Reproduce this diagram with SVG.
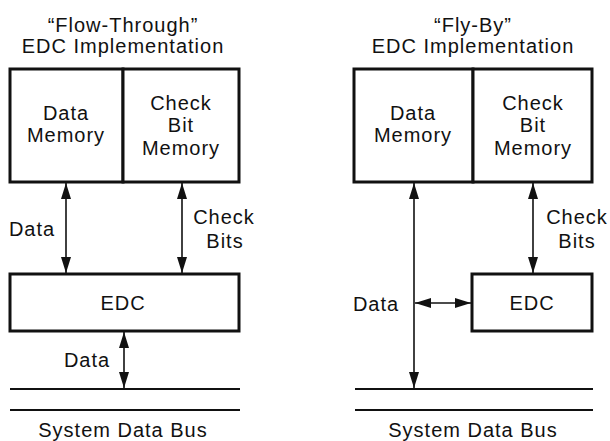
<svg xmlns="http://www.w3.org/2000/svg" width="610" height="441" viewBox="0 0 610 441">
<style>
text{font-family:"Liberation Sans",Arial,sans-serif;font-size:20px;letter-spacing:1px;fill:#111;text-anchor:middle}
.box{fill:#fff;stroke:#111;stroke-width:3}
.ln{stroke:#111;stroke-width:1.6;fill:none}
.bus{stroke:#111;stroke-width:2}
</style>
<defs>
<marker id="ah" viewBox="0 0 16 10" refX="16" refY="5" markerWidth="16" markerHeight="10" markerUnits="userSpaceOnUse" orient="auto-start-reverse">
<path d="M0,0 L16,5 L0,10 Z" fill="#111"/>
</marker>
</defs>
<rect width="610" height="441" fill="#fff"/>
<g id="title-left"><text x="123" y="32">“Flow-Through”</text><text x="123" y="53">EDC Implementation</text></g>
<g id="title-right"><text x="473" y="32">“Fly-By”</text><text x="473" y="53">EDC Implementation</text></g>
<g id="L-datamem"><rect class="box" x="10" y="69" width="113" height="113"/><text x="66" y="120">Data</text><text x="66" y="142">Memory</text></g>
<g id="L-checkmem"><rect class="box" x="123" y="69" width="116" height="113"/><text x="181" y="110">Check</text><text x="181" y="132">Bit</text><text x="181" y="155">Memory</text></g>
<g id="L-edc"><rect class="box" x="10" y="274" width="229" height="57"/><text x="123" y="310">EDC</text></g>
<g id="R-datamem"><rect class="box" x="354" y="69" width="119" height="113"/><text x="413" y="120">Data</text><text x="413" y="142">Memory</text></g>
<g id="R-checkmem"><rect class="box" x="473" y="69" width="119" height="113"/><text x="533" y="110">Check</text><text x="533" y="132">Bit</text><text x="533" y="155">Memory</text></g>
<g id="R-edc"><rect class="box" x="472" y="274" width="120" height="57"/><text x="532" y="310">EDC</text></g>
<g id="L-bus"><line class="bus" x1="10" y1="389" x2="240" y2="389"/><line class="bus" x1="10" y1="410" x2="240" y2="410"/><text x="123" y="437">System Data Bus</text></g>
<g id="R-bus"><line class="bus" x1="355" y1="389" x2="593" y2="389"/><line class="bus" x1="355" y1="410" x2="593" y2="410"/><text x="473" y="437">System Data Bus</text></g>
<g id="connectors">
<line class="ln" x1="66" y1="183" x2="66" y2="273" marker-start="url(#ah)" marker-end="url(#ah)"/>
<line class="ln" x1="182" y1="183" x2="182" y2="273" marker-start="url(#ah)" marker-end="url(#ah)"/>
<line class="ln" x1="124" y1="332" x2="124" y2="388" marker-start="url(#ah)" marker-end="url(#ah)"/>
<line class="ln" x1="414" y1="183" x2="414" y2="388" marker-start="url(#ah)" marker-end="url(#ah)"/>
<line class="ln" x1="533" y1="183" x2="533" y2="273" marker-start="url(#ah)" marker-end="url(#ah)"/>
<line class="ln" x1="415" y1="303" x2="471" y2="303" marker-start="url(#ah)" marker-end="url(#ah)"/>
</g>
<g id="labels">
<text x="32" y="236">Data</text>
<text x="224" y="224">Check</text><text x="225" y="248">Bits</text>
<text x="87" y="367">Data</text>
<text x="376" y="311">Data</text>
<text x="577" y="224">Check</text><text x="577" y="248">Bits</text>
</g>
</svg>
